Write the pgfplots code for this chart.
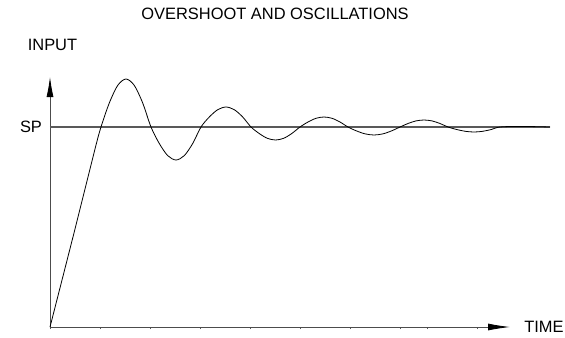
\documentclass[border=0pt]{standalone}
\usepackage{pgfplots}
\pgfplotsset{compat=1.18}
\usepackage{fontspec}
\setmainfont{Liberation Sans}
\usetikzlibrary{arrows.meta}
\begin{document}
\begin{tikzpicture}
\begin{axis}[
  scale only axis, width=460bp, height=250bp,
  xmin=0, xmax=460, ymin=0, ymax=250,
  axis lines=left,
  axis line style={black!70, line width=0.8bp},
  x axis line style={-{Latex[length=22bp,width=7bp,black]}},
  y axis line style={-{Latex[length=20bp,width=7bp,black]}},
  xtick={0,50,100,150,200,250,300,350,377,427},
  xticklabels={},
  ytick=\empty,
  tick align=outside,
  major tick length=2bp,
  tick style={black!65, line width=0.8bp},
  clip=false,
  font=\fontsize{16.5}{19}\selectfont,
]
\addplot[black!65, line width=1.1bp] coordinates {(0,200) (500,200)};
\addplot[black, line width=0.8bp, smooth, tension=0.5] coordinates {
(0,0) (25,98) (45,178) (51,200)
(59.3,224) (67.7,241.6) (76,248) (84.3,241.6) (92.7,224) (101,200)
(109.3,183.5) (117.7,171.4) (126,167) (134.3,171.4) (142.7,183.5) (151,200)
(159.3,210) (167.7,217.3) (176,220) (184.3,217.3) (192.7,210) (201,200)
(209.2,193.5) (217.3,188.7) (225.5,187) (233.7,188.7) (241.8,193.5) (250,200)
(258,205) (266,208.7) (274,210) (282,208.7) (290,205) (298,200)
(306.7,196) (315.3,193.1) (324,192) (332.7,193.1) (341.3,196) (350,200)
(358,203.5) (366,206.1) (374,207) (382,206.1) (390,203.5) (398,200)
(406.7,197.5) (415.3,195.7) (424,195) (432.7,195.7) (441.3,197.5) (450,200)
(470,200.6) (500,200)
};
\node at (axis cs:225,313) {OVERSHOOT AND OSCILLATIONS};
\node at (axis cs:2.5,282) {INPUT};
\node at (axis cs:-19,200) {SP};
\node at (axis cs:494,0) {TIME};
\coordinate (bl) at (axis cs:-50,-10);
\coordinate (tr) at (axis cs:515,327);
\end{axis}
\pgfresetboundingbox
\path (bl) rectangle (tr);
\end{tikzpicture}
\end{document}
